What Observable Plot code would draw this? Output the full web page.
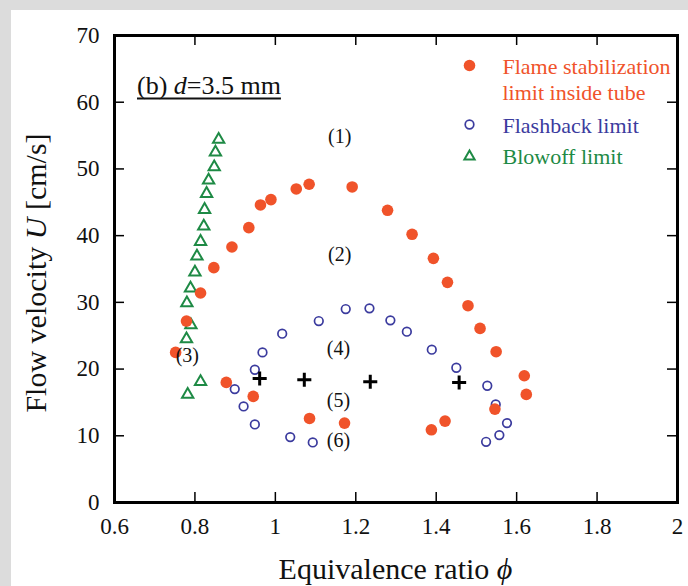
<!DOCTYPE html>
<html><head><meta charset="utf-8">
<script src="https://cdn.jsdelivr.net/npm/d3@7"></script>
<script src="https://cdn.jsdelivr.net/npm/@observablehq/plot@0.6"></script>
<style>
html,body{margin:0;padding:0;background:#dcdcdc;width:688px;height:586px;overflow:hidden}
#panel{position:absolute;left:11px;top:10px;width:677px;height:576px;background:#fff}
#chart{position:absolute;left:0;top:0}
</style></head><body><div id="panel"></div><div id="chart"></div>
<script>
// Flame stabilization limit inside tube (filled orange circles)
const stabPhi = [0.752,0.779,0.814,0.847,0.892,0.934,0.963,0.989,1.052,1.084,1.191,1.279,1.340,1.393,1.428,1.479,1.509,1.549,1.619,1.624,1.546,1.422,1.388,1.172,1.085,0.945,0.878];
const stabU   = [22.5,27.2,31.4,35.2,38.3,41.2,44.6,45.4,47.0,47.7,47.3,43.8,40.2,36.6,33.0,29.5,26.1,22.6,19.0,16.2,14.0,12.2,10.9,11.9,12.6,15.9,18.0];
// Flashback limit (open blue circles)
const flashPhi = [0.949,0.968,1.017,1.108,1.175,1.234,1.286,1.327,1.389,1.450,1.527,1.548,1.576,1.557,1.524,1.093,1.037,0.949,0.921,0.899];
const flashU   = [19.9,22.5,25.3,27.2,29.0,29.1,27.3,25.6,22.9,20.2,17.5,14.7,11.9,10.1,9.1,9.0,9.8,11.7,14.4,17.0];
// Blowoff limit (open green triangles)
const blowPhi = [0.859,0.851,0.848,0.834,0.829,0.824,0.822,0.814,0.805,0.800,0.789,0.780,0.790,0.779,0.814,0.782];
const blowU   = [54.4,52.5,50.3,48.3,46.3,43.9,41.4,39.1,36.9,34.5,32.1,29.9,26.6,24.5,18.1,16.2];
// Cross markers
const crossPhi = [0.961,1.072,1.236,1.457];
const crossU   = [18.6,18.4,18.1,18.0];
// Region labels
const regionLabels = ["(1)","(2)","(3)","(4)","(5)","(6)"];
const regionPhi = [1.16,1.16,0.781,1.157,1.157,1.157];
const regionU   = [54.8,37.1,22.0,23.0,15.3,9.3];
// Ticks
const xTicks = [0.6,0.8,1.0,1.2,1.4,1.6,1.8,2.0];
const yTicks = [0,10,20,30,40,50,60,70];
// Legend
const legendLabels = ["Flame stabilization","limit inside tube","Flashback limit","Blowoff limit"];
const panelTitle = ["(b) ","d","=3.5 mm"];
const xTitle = ["Equivalence ratio ","ϕ"];
const yTitle = ["Flow velocity ","U"," [cm/s]"];

const cOrange = "#f0532a", cBlue = "#3b3b9e", cGreen = "#1e8a45";
const W = 688, H = 586, mL = 114, mR = 11, mT = 35, mB = 84;
const pw = W - mL - mR, ph = H - mT - mB;
const zip = (a, b) => a.map((v, i) => ({x: v, y: b[i]}));
const stab = zip(stabPhi, stabU), flash = zip(flashPhi, flashU), blow = zip(blowPhi, blowU), cross = zip(crossPhi, crossU);
const regions = regionLabels.map((t, i) => ({t, x: regionPhi[i], y: regionU[i]}));
const font = "Liberation Serif, Times New Roman, serif";

const legendText = (i, dy, fill) => Plot.text([legendLabels[i]], {frameAnchor: "top-left", text: d => d, dx: 388, dy, textAnchor: "start", lineAnchor: "middle", fontSize: 22, fill});

const chart = Plot.plot({
  width: W, height: H, marginLeft: mL, marginRight: mR, marginTop: mT, marginBottom: mB,
  style: {fontFamily: font, background: "transparent", color: "#111"},
  x: {domain: [0.6, 2], label: null},
  y: {domain: [0, 70], label: null},
  marks: [
    Plot.axisX({ticks: xTicks, tickSize: 0, tickPadding: 15, fontSize: 23, tickFormat: d => String(+d.toFixed(1)), label: null}),
    Plot.axisY({ticks: yTicks, tickSize: 0, tickPadding: 15, fontSize: 23, tickFormat: d => String(d), label: null}),
    Plot.tickX(xTicks, {x: d => d, insetTop: ph - 10, stroke: "#000", strokeWidth: 1.5}),
    Plot.tickX(xTicks, {x: d => d, insetBottom: ph - 10, stroke: "#000", strokeWidth: 1.5}),
    Plot.tickY(yTicks, {y: d => d, insetRight: pw - 10, stroke: "#000", strokeWidth: 1.5}),
    Plot.tickY(yTicks, {y: d => d, insetLeft: pw - 10, stroke: "#000", strokeWidth: 1.5}),
    Plot.dot(blow, {x: "x", y: "y", symbol: "triangle", r: 4.2, stroke: cGreen, strokeWidth: 2, fill: "none"}),
    Plot.dot(flash, {x: "x", y: "y", r: 4.3, stroke: cBlue, strokeWidth: 1.7, fill: "none"}),
    Plot.dot(stab, {x: "x", y: "y", r: 5.8, fill: cOrange, stroke: "none"}),
    Plot.dot(cross, {x: "x", y: "y", symbol: "plus", r: 4.6, stroke: "#000", strokeWidth: 3}),
    Plot.text(regions, {x: "x", y: "y", text: "t", fontSize: 20, fill: "#111"}),
    // legend
    Plot.dot([0], {frameAnchor: "top-left", dx: 355, dy: 30, r: 5.8, fill: cOrange}),
    Plot.dot([0], {frameAnchor: "top-left", dx: 355, dy: 89, r: 4.3, stroke: cBlue, strokeWidth: 1.7, fill: "none"}),
    Plot.dot([0], {frameAnchor: "top-left", dx: 355, dy: 121, r: 3.8, symbol: "triangle", stroke: cGreen, strokeWidth: 2, fill: "none"}),
    legendText(0, 31, cOrange),
    legendText(1, 57, cOrange),
    legendText(2, 90.7, cBlue),
    legendText(3, 121.3, cGreen),
    Plot.frame({stroke: "#000", strokeWidth: 3})
  ]
});
document.getElementById("chart").appendChild(chart);

const svg = d3.select(chart);
function rich(parts, italicIdx, attrs) {
  const t = svg.append("text").attr("font-family", font).attr("fill", "#111");
  for (const [k, v] of Object.entries(attrs)) t.attr(k, v);
  parts.forEach((p, i) => t.append("tspan").attr("font-style", italicIdx.includes(i) ? "italic" : null).text(p));
  return t;
}
rich(xTitle, [1], {x: mL + pw / 2, y: 579, "text-anchor": "middle", "font-size": 30});
rich(yTitle, [1], {transform: `translate(46,273) rotate(-90)`, "text-anchor": "middle", "font-size": 30});
const pt = rich(panelTitle, [1], {x: 137, y: 94, "text-anchor": "start", "font-size": 26});
const len = pt.node().getComputedTextLength();
svg.append("line").attr("x1", 137).attr("x2", 137 + len).attr("y1", 98.5).attr("y2", 98.5).attr("stroke", "#111").attr("stroke-width", 2);
</script></body></html>
